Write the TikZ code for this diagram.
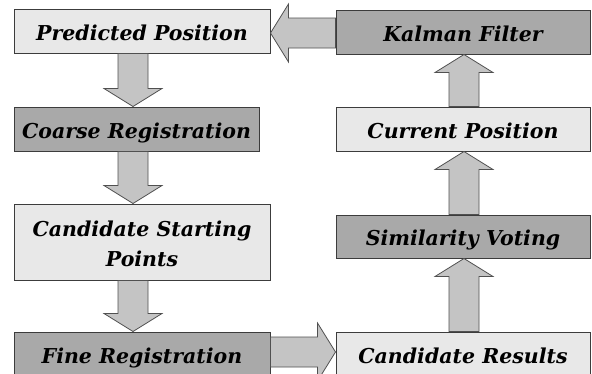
\documentclass[tikz,border=0pt]{standalone}
\usepackage{fontspec}
\setmainfont{DejaVu Serif}
\usepackage{tikz}
\usetikzlibrary{calc}
\definecolor{boxlight}{HTML}{E8E8E8}
\definecolor{boxdark}{HTML}{A9A9A9}
\definecolor{arrowgray}{HTML}{C4C4C4}
\definecolor{edgegray}{HTML}{3C3C3C}
\tikzset{>=stealth,
  stage/.style={draw=edgegray,line width=1pt,rectangle,minimum height=44pt,
    minimum width=256pt,inner sep=0pt,align=center,text height=18pt,text depth=-3pt,
    font=\fontsize{20.5}{30}\selectfont\bfseries\itshape},
  lightbox/.style={stage,fill=boxlight},
  darkbox/.style={stage,fill=boxdark},
  arrowbody/.style={draw=edgegray!90,line width=0.8pt,fill=arrowgray,line join=miter}}
\newcommand{\fatarrow}[2]{%
  \path (#1) coordinate (from) (#2) coordinate (to);
  \path ($(to)!18pt!(from)$) coordinate (neck);
  \draw[arrowbody] ($(from)!15pt!90:(to)$) -- ($(neck)!15pt!90:(to)$)
    -- ($(neck)!29pt!90:(to)$) -- (to) -- ($(neck)!29pt!-90:(to)$)
    -- ($(neck)!15pt!-90:(to)$) -- ($(from)!15pt!-90:(to)$) -- cycle;}

\begin{document}
\begin{tikzpicture}[x=1pt,y=-1pt]
      \useasboundingbox (0,0) rectangle (592,373);
      \clip (0,0) rectangle (592,373);
      % left column
      \node[lightbox] (pp) at (142,31) {Predicted Position};
      \node[darkbox,minimum width=245pt] (cr) at (136.5,129) {Coarse Registration};
      \node[lightbox,minimum height=76pt,text height=48pt] (cs) at (142,242) {Candidate Starting\\Points};
      \node[darkbox] (fr) at (142,354) {Fine Registration};
      % right column
      \node[darkbox,minimum width=254pt] (kf) at (463,32) {Kalman Filter};
      \node[lightbox,minimum width=254pt] (cp) at (463,129) {Current Position};
      \node[darkbox,minimum width=254pt,minimum height=43pt] (sv) at (463,236.5) {Similarity Voting};
      \node[lightbox,minimum width=254pt] (res) at (463,354) {Candidate Results};
      % arrow axes
      \coordinate (axL) at (133,0);
      \coordinate (axR) at (464,0);
      \coordinate (axT) at (0,33);
      \coordinate (axB) at (0,352);
      \fatarrow{pp.south -| axL}{cr.north -| axL}
      \fatarrow{cr.south -| axL}{cs.north -| axL}
      \fatarrow{cs.south -| axL}{fr.north -| axL}
      \fatarrow{fr.east |- axB}{res.west |- axB}
      \fatarrow{res.north -| axR}{sv.south -| axR}
      \fatarrow{sv.north -| axR}{cp.south -| axR}
      \fatarrow{cp.north -| axR}{kf.south -| axR}
      \fatarrow{kf.west |- axT}{pp.east |- axT}
\end{tikzpicture}
\end{document}
